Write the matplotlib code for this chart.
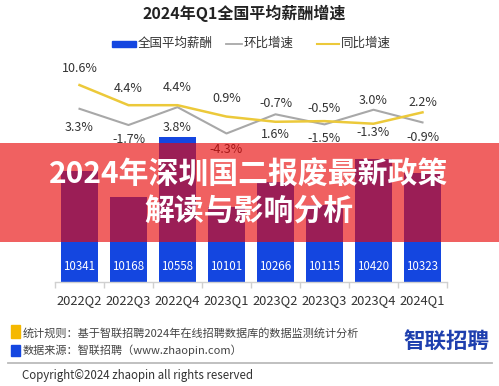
import matplotlib
matplotlib.use("Agg")
import matplotlib.pyplot as plt
from matplotlib.patches import Rectangle
from matplotlib.lines import Line2D

plt.rcParams['font.family'] = ['Noto Sans CJK SC', 'DejaVu Sans']

# ---- data ----
categories = ["2022Q2", "2022Q3", "2022Q4", "2023Q1", "2023Q2", "2023Q3", "2023Q4", "2024Q1"]
salary = [10341, 10168, 10558, 10101, 10266, 10115, 10420, 10323]
qoq = [3.3, -1.7, 3.8, -4.3, 1.6, -1.5, 3.0, -0.9]      # 环比增速
yoy = [10.6, 4.4, 4.4, 0.9, -0.7, -0.5, -1.3, 2.2]      # 同比增速

title = "2024年Q1全国平均薪酬增速"
legend_labels = ["全国平均薪酬", "环比增速", "同比增速"]
banner_lines = ["2024年深圳国二报废最新政策", "解读与影响分析"]
note1 = "统计规则：基于智联招聘2024年在线招聘数据库的数据监测统计分析"
note2 = "数据来源：智联招聘（www.zhaopin.com）"
logo = "智联招聘"
copyright_text = "Copyright©2024 zhaopin all rights reserved"

# ---- style ----
W, H = 499, 386
BLUE = "#1446e0"
GRAY = "#a8a8a8"
YELLOW = "#ecc93a"
TXT = "#333333"
yoy_off = [-17, -17, -18, -18, -18, -13, 9, -10]   # label offsets in px (neg = above)
qoq_off = [19, 14, 20, 16, 20, 14, -9, 15]

def fx(x):
    return x / W

def fy(y):
    return 1 - y / H

fig = plt.figure(figsize=(W / 100, H / 100), dpi=100)
fig.patch.set_facecolor("white")

ax_left, ax_right = 55, 447
ax_top, ax_bot = 60, 282
ax = fig.add_axes([fx(ax_left), fy(ax_bot), (ax_right - ax_left) / W, (ax_bot - ax_top) / H])
x = list(range(len(categories)))

# bars
ax.bar(x, salary, width=0.74, color=BLUE, zorder=2)
ax.set_xlim(-0.5, len(categories) - 0.5)
bar_min = 9611
ax.set_ylim(bar_min, bar_min + (ax_bot - ax_top) / 0.1526)
for xi, v in zip(x, salary):
    ax.text(xi, bar_min + 100, str(v), ha="center", va="center", color="white", fontsize=8.3, zorder=3)

for s in ["top", "right", "left"]:
    ax.spines[s].set_visible(False)
ax.spines["bottom"].set_color("#d0d0d0")
ax.spines["bottom"].set_linewidth(1.0)
ax.set_yticks([])
ax.set_xticks([i - 0.5 for i in range(len(categories) + 1)])
ax.set_xticklabels([])
ax.tick_params(axis="x", length=4, color="#d0d0d0", width=1.0)
for xi, c in zip(x, categories):
    ax.text(xi, -0.085, c, transform=ax.get_xaxis_transform(), ha="center", va="center",
            color=TXT, fontsize=9.3)

# lines
ax2 = ax.twinx()
ax2.set_xlim(-0.5, len(categories) - 0.5)
zero_px, px_per = 119.5, 3.25
ax2.set_ylim((zero_px - ax_bot) / px_per, (zero_px - ax_top) / px_per)
ax2.axis("off")
ax2.plot(x, qoq, color=GRAY, lw=1.5, zorder=3)
ax2.plot(x, yoy, color=YELLOW, lw=1.8, zorder=4)
for xi, v, o in zip(x, yoy, yoy_off):
    ax2.annotate(f"{v:.1f}%", (xi, v), xytext=(0, -o * 0.72), textcoords="offset points",
                 ha="center", va="center", fontsize=9, color=TXT)
for xi, v, o in zip(x, qoq, qoq_off):
    ax2.annotate(f"{v:.1f}%", (xi, v), xytext=(0, -o * 0.72), textcoords="offset points",
                 ha="center", va="center", fontsize=9, color=TXT)

# title
fig.text(fx(244), fy(13), title, ha="center", va="center", fontsize=11.5, fontweight="bold", color="#222222")

# legend
fig.patches.append(Rectangle((fx(112), fy(46.5)), fx(24), 5 / H, transform=fig.transFigure,
                             color=BLUE, figure=fig))
fig.text(fx(138), fy(43), legend_labels[0], ha="left", va="center", fontsize=9, color=TXT)
fig.lines.append(Line2D([fx(226), fx(242)], [fy(44), fy(44)], transform=fig.transFigure, color=GRAY, lw=1.3))
fig.text(fx(244), fy(43), legend_labels[1], ha="left", va="center", fontsize=9, color=TXT)
fig.lines.append(Line2D([fx(317), fx(339)], [fy(44), fy(44)], transform=fig.transFigure, color=YELLOW, lw=1.5))
fig.text(fx(341), fy(43), legend_labels[2], ha="left", va="center", fontsize=9, color=TXT)

# banner overlay
banner = Rectangle((0, fy(242)), 1, 99 / H, transform=fig.transFigure, facecolor=(0.91, 0.03, 0.03),
                   alpha=0.64, edgecolor="none", zorder=10, figure=fig)
fig.patches.append(banner)
fig.text(fx(249), fy(174), banner_lines[0], ha="center", va="center", fontsize=21.5,
         fontweight="bold", color="white", zorder=11)
fig.text(fx(249), fy(212), banner_lines[1], ha="center", va="center", fontsize=21.5,
         fontweight="bold", color="white", zorder=11)

# footer
fig.patches.append(Rectangle((fx(11), fy(338)), fx(9), 13 / H, transform=fig.transFigure,
                             color="#f5b800", figure=fig))
fig.patches.append(Rectangle((fx(11), fy(356)), fx(9), 11 / H, transform=fig.transFigure,
                             color=BLUE, figure=fig))
fig.text(fx(23), fy(333), note1, ha="left", va="center", fontsize=8, color="#444444")
fig.text(fx(23), fy(350), note2, ha="left", va="center", fontsize=8, color="#444444")
fig.text(fx(446), fy(341), logo, ha="center", va="center", fontsize=15.5, fontweight="bold", color="#1e3fae")
fig.lines.append(Line2D([fx(8), fx(492)], [fy(363), fy(363)], transform=fig.transFigure, color="#bbbbbb", lw=1.3))
fig.text(fx(22), fy(375), copyright_text, ha="left", va="center", fontsize=8.3, color="#333333")

fig.savefig("out.png", dpi=100, facecolor="white")
